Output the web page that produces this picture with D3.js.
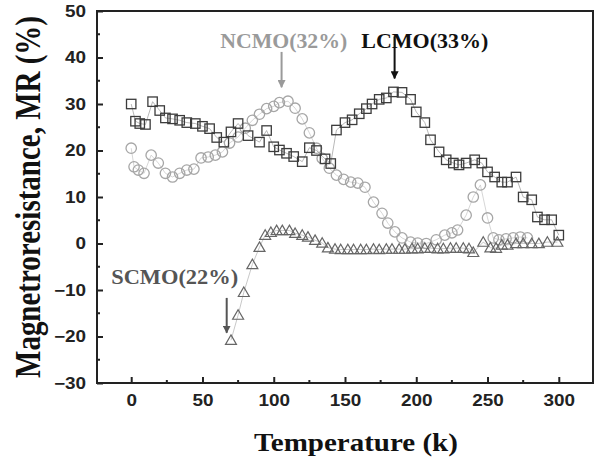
<!DOCTYPE html>
<html>
<head>
<meta charset="utf-8">
<script src="https://cdn.jsdelivr.net/npm/d3@7"></script>
<style>
  body { margin: 0; background: #fff; }
  svg { display: block; }
</style>
</head>
<body>
<script>
// data: [temperature (K), MR (%)]
let lcmo = [
  [0,30],[3,26.3],[6,25.8],[10,25.6],[15,30.5],[20,28.6],[24,27],[29,26.8],[34,26.5],[39,26],
  [45,25.8],[50,25.2],[55,24.7],[60,22.8],[65,21.8],[70,24],[75,25.8],[82,23.2],[90,21.8],[95,24.3],
  [100,20.8],[104,20.1],[109,19.4],[114,18.7],[120,17.6],[125,20.6],[130,20],[136,18.2],[140,17.2],
  [144,24.4],[150,26],[155,26.6],[160,27.9],[165,29],[169,30],[174,31],[179,31.3],[184,32.6],[190,32.5],
  [196,31],[200,28.3],[206,26],[210,22.3],[216,19.7],[221,18],[226,17.3],[230,16.9],[235,17.3],[241,18],
  [246,17.3],[250,15.4],[255,14.3],[260,13.2],[264,13.2],[270,14.3],[275,10],[281,9.4],[285,5.7],
  [290,5.1],[295,5.1],[300,1.8]
]

let ncmo = [
  [0,20.5],[2,16.5],[5,15.8],[9,15.1],[14,19],[19,17.3],[24,15.1],[29,14.3],[34,15.1],[39,15.8],
  [44,16],[49,18.4],[54,18.6],[59,19],[64,19.7],[69,21.6],[75,22.9],[80,24.8],[85,26.5],[90,27.8],
  [95,29],[100,29.5],[104,30.3],[110,30.6],[115,29.1],[120,26.8],[125,23.8],[130,20.5],[134,18.3],
  [139,16.2],[144,14.7],[149,13.8],[154,13.2],[159,13],[164,12.1],[170,8.9],[176,6.5],[180,4.4],
  [185,2.5],[190,1.2],[196,0.3],[201,0.1],[207,0],[214,0.8],[220,1.8],[225,2.3],[229,2.9],[235,6.1],
  [240,10],[245,12.6],[250,5.5],[254,1.2],[258,0.8],[263,1],[268,1.2],[273,1.4],[278,1.2]
]

let scmo = [
  [70,-20.8],[75,-15.4],[79,-10.5],[85,-4.5],[90,-0.8],[94,1.8],[98,2.4],[102,2.8],[106,2.8],[111,2.8],
  [115,2.2],[120,1.8],[124,1.4],[129,0.7],[134,0.1],[138,-0.9],[143,-1.2],[147,-1.3],[152,-1.3],
  [156,-1.3],[161,-1.3],[165,-1.3],[170,-1.2],[174,-1.3],[179,-1.2],[183,-1.2],[188,-1.2],[192,-1.2],
  [197,-1.1],[201,-1.1],[206,-1],[210,-1],[215,-1.1],[219,-1.1],[224,-1],[228,-1],[233,-1],[237,-1.1],
  [240,-1.9],[247,0.3],[252,-0.9],[256,-1],[260,-0.3],[264,-0.3],[270,0],[275,0],[281,0],[286,0],
  [292,0.3],[299,0.3]
]

let xTicks = [0, 50, 100, 150, 200, 250, 300]
let yTicks = [-30, -20, -10, 0, 10, 20, 30, 40, 50]

let width = 608;
let height = 459;
let margin = {top: 11, right: 15, bottom: 76, left: 97};

const svg = d3.select('body').append('svg').attr('width', width).attr('height', height)

let xScale = d3.scaleLinear().domain([-24, 324]).range([margin.left, width - margin.right])
let yScale = d3.scaleLinear().domain([-30, 50]).range([height - margin.bottom, margin.top])

// the picture is stretched sideways, so widen the text to match
const stretch = (sel, k) => {
  sel.each(function () {
    let len = this.getComputedTextLength()
    d3.select(this).attr('textLength', len * k).attr('lengthAdjust', 'spacingAndGlyphs')
  })
}

// thin connecting lines
let line = d3.line().x(d => xScale(d[0])).y(d => yScale(d[1]))
const drawLine = (data, color) => {
  svg.append('path').datum(data)
    .attr('d', line).attr('fill', 'none')
    .attr('stroke', color).attr('stroke-width', 0.7)
}
drawLine(ncmo, '#c4c4c4')
drawLine(lcmo, '#9a9a9a')
drawLine(scmo, '#b0b0b0')

// circles
svg.append('g').selectAll('circle').data(ncmo).enter().append('circle')
  .attr('cx', d => xScale(d[0])).attr('cy', d => yScale(d[1]))
  .attr('r', 5.2).attr('fill', 'none')
  .attr('stroke', '#a6a6a6').attr('stroke-width', 1.3)

// squares
svg.append('g').selectAll('rect').data(lcmo).enter().append('rect')
  .attr('x', d => xScale(d[0]) - 4.7).attr('y', d => yScale(d[1]) - 4.7)
  .attr('width', 9.4).attr('height', 9.4).attr('fill', 'none')
  .attr('stroke', '#3c3c3c').attr('stroke-width', 1.3)

// triangles
let tri = d3.symbol().type(d3.symbolTriangle).size(52)
svg.append('g').selectAll('path').data(scmo).enter().append('path')
  .attr('d', tri)
  .attr('transform', d => `translate(${xScale(d[0])},${yScale(d[1]) + 1})`)
  .attr('fill', 'none').attr('stroke', '#666').attr('stroke-width', 1.2)

// frame
svg.append('rect')
  .attr('x', margin.left).attr('y', margin.top)
  .attr('width', width - margin.left - margin.right)
  .attr('height', height - margin.top - margin.bottom)
  .attr('fill', 'none').attr('stroke', '#222').attr('stroke-width', 2)

// axes with inward ticks
let xAxis = d3.axisBottom(xScale).tickValues(xTicks).tickSize(-6).tickPadding(12)
let yAxis = d3.axisLeft(yScale).tickValues(yTicks).tickSize(-6).tickPadding(11)

let gx = svg.append('g').attr('transform', `translate(0,${height - margin.bottom})`).call(xAxis)
let gy = svg.append('g').attr('transform', `translate(${margin.left},0)`).call(yAxis)

// minor ticks
svg.append('g').selectAll('line').data(d3.range(25, 300, 50)).enter().append('line')
  .attr('x1', d => xScale(d)).attr('x2', d => xScale(d))
  .attr('y1', height - margin.bottom).attr('y2', height - margin.bottom - 3)
  .attr('stroke', '#222').attr('stroke-width', 2)
svg.append('g').selectAll('line').data(d3.range(-25, 50, 10)).enter().append('line')
  .attr('x1', margin.left).attr('x2', margin.left + 3)
  .attr('y1', d => yScale(d)).attr('y2', d => yScale(d))
  .attr('stroke', '#222').attr('stroke-width', 2)

;[gx, gy].forEach(g => {
  g.select('.domain').remove()
  g.selectAll('.tick line').attr('stroke', '#222').attr('stroke-width', 2)
  g.selectAll('.tick text')
    .attr('font-family', '"Liberation Sans", Arial, sans-serif')
    .attr('font-weight', 'bold').attr('font-size', 16).attr('fill', '#222')
    .call(stretch, 1.18)
})

// axis titles
svg.append('text')
  .attr('x', 356).attr('y', 451)
  .attr('text-anchor', 'middle')
  .attr('font-family', '"Liberation Serif", "Times New Roman", serif')
  .attr('font-weight', 'bold').attr('font-size', 25).attr('fill', '#111')
  .text('Temperature (k)')
  .call(stretch, 1.16)

svg.append('text')
  .attr('transform', `translate(40,${(margin.top + height - margin.bottom) / 2}) rotate(-90) scale(1,1.2)`)
  .attr('text-anchor', 'middle')
  .attr('font-family', '"Liberation Serif", "Times New Roman", serif')
  .attr('font-weight', 'bold').attr('font-size', 29).attr('fill', '#111')
  .text('Magnetroresistance, MR (%)')

// annotations
let notes = [
  {label: 'NCMO(32%)', x: 107, y: 42, color: '#9a9a9a', ax: 105.5, a1: 41.2, a2: 33.6},
  {label: 'LCMO(33%)', x: 206, y: 42, color: '#111', ax: 184.8, a1: 44.5, a2: 35.5},
  {label: 'SCMO(22%)', x: 30.5, y: -8.8, color: '#555', ax: 67, a1: -11.7, a2: -19.2}
]

svg.append('defs').selectAll('marker').data(notes).enter().append('marker')
  .attr('id', (d, i) => 'arr' + i)
  .attr('viewBox', '0 0 10 10').attr('refX', 9).attr('refY', 5)
  .attr('markerWidth', 4).attr('markerHeight', 4).attr('orient', 'auto')
  .append('path').attr('d', 'M0,0 L10,5 L0,10 z').attr('fill', d => d.color)

notes.forEach((n, i) => {
  svg.append('text')
    .attr('x', xScale(n.x)).attr('y', yScale(n.y))
    .attr('text-anchor', 'middle')
    .attr('font-family', '"Liberation Serif", "Times New Roman", serif')
    .attr('font-weight', 'bold').attr('font-size', 20).attr('fill', n.color)
    .text(n.label)
    .attr('textLength', 127).attr('lengthAdjust', 'spacingAndGlyphs')
  svg.append('line')
    .attr('x1', xScale(n.ax)).attr('x2', xScale(n.ax))
    .attr('y1', yScale(n.a1)).attr('y2', yScale(n.a2))
    .attr('stroke', n.color).attr('stroke-width', 2)
    .attr('marker-end', `url(#arr${i})`)
})
</script>
</body>
</html>
